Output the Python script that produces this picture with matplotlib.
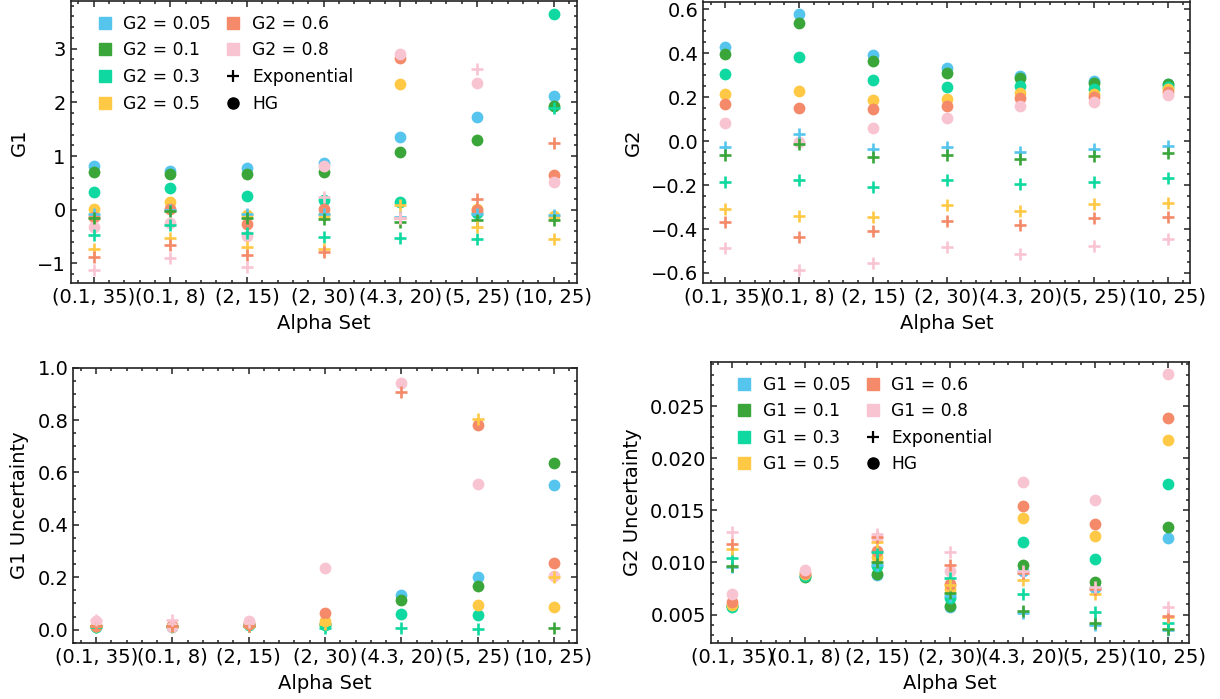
import numpy as np
import matplotlib
matplotlib.use("Agg")
import matplotlib.pyplot as plt
from matplotlib.lines import Line2D
from matplotlib.ticker import AutoMinorLocator

nan = np.nan

alpha_sets = ['(0.1, 35)', '(0.1, 8)', '(2, 15)', '(2, 30)', '(4.3, 20)', '(5, 25)', '(10, 25)']
g_values = ['0.05', '0.1', '0.3', '0.5', '0.6', '0.8']
colors = ['#56C5EE', '#3AA63A', '#0FD8A0', '#FFC845', '#F58A6A', '#F9C4D2']

# G1 fits (rows = G2 value, cols = alpha set)
g1_hg = [
    [0.81, 0.73, 0.78, 0.88, 1.36, 1.72, 2.12],
    [0.70, 0.66, 0.66, 0.71, 1.07, 1.30, 1.93],
    [0.33, 0.40, 0.25, 0.18, 0.14, -0.06, 3.65],
    [0.01, 0.15, -0.10, -0.10, 2.34, 0.02, -0.12],
    [-0.13, 0.02, -0.27, 0.02, 2.83, 0.00, 0.64],
    [-0.32, -0.24, -0.48, 0.81, 2.91, 2.36, 0.52],
]
g1_exp = [
    [-0.07, 0.00, -0.07, -0.07, -0.13, -0.07, -0.09],
    [-0.16, -0.03, -0.16, -0.17, -0.22, -0.19, -0.19],
    [-0.47, -0.29, -0.44, -0.50, -0.53, -0.55, 1.89],
    [-0.73, -0.52, -0.70, -0.73, 0.09, -0.33, -0.54],
    [-0.88, -0.65, -0.85, -0.78, -0.15, 0.20, 1.25],
    [-1.12, -0.89, -1.06, 0.23, -0.15, 2.62, nan],
]

# G2 fits
g2_hg = [
    [0.429, 0.577, 0.394, 0.333, 0.295, 0.273, 0.262],
    [0.398, 0.536, 0.365, 0.311, 0.285, 0.265, 0.258],
    [0.306, 0.382, 0.277, 0.247, 0.250, 0.238, 0.247],
    [0.214, 0.227, 0.189, 0.191, 0.217, 0.214, 0.235],
    [0.171, 0.150, 0.145, 0.159, 0.197, 0.202, 0.224],
    [0.083, -0.003, 0.061, 0.103, 0.161, 0.177, 0.208],
]
g2_exp = [
    [-0.026, 0.032, -0.035, -0.026, -0.048, -0.035, -0.020],
    [-0.061, -0.011, -0.071, -0.061, -0.082, -0.067, -0.053],
    [-0.186, -0.177, -0.208, -0.177, -0.197, -0.186, -0.167],
    [-0.309, -0.339, -0.344, -0.291, -0.318, -0.288, -0.283],
    [-0.370, -0.438, -0.409, -0.362, -0.382, -0.352, -0.344],
    [-0.488, -0.586, -0.556, -0.480, -0.514, -0.476, -0.447],
]

# G1 uncertainty (nan = not visible / above 1)
g1_unc_hg = [
    [0.015, 0.012, 0.020, 0.020, 0.133, 0.202, 0.551],
    [0.012, 0.012, 0.020, 0.020, 0.114, 0.165, 0.635],
    [0.010, 0.010, 0.018, 0.017, 0.061, 0.055, nan],
    [0.015, 0.012, 0.020, 0.032, nan, 0.093, 0.085],
    [0.013, 0.012, 0.020, 0.063, nan, 0.781, 0.254],
    [0.032, 0.010, 0.034, 0.236, 0.940, 0.555, 0.203],
]
g1_unc_exp = [
    [0.012, 0.015, 0.015, nan, nan, nan, nan],
    [0.012, 0.015, 0.012, nan, nan, nan, 0.005],
    [0.010, 0.015, 0.015, 0.006, 0.006, 0.004, nan],
    [0.015, 0.015, 0.015, 0.020, nan, 0.806, 0.202],
    [0.015, 0.015, 0.015, nan, 0.909, nan, nan],
    [0.038, 0.036, 0.030, nan, nan, nan, nan],
]

# G2 uncertainty (rows = G1 value)
g2_unc_hg = [
    [0.0058, 0.0087, 0.0088, 0.00577, 0.00921, 0.00752, 0.01237],
    [0.0058, 0.0086, 0.00886, 0.00583, 0.00975, 0.00809, 0.01339],
    [0.0057, 0.0087, 0.00966, 0.00656, 0.01199, 0.0103, 0.0175],
    [0.00592, 0.0089, 0.01055, 0.00746, 0.01422, 0.01256, 0.02175],
    [0.00624, 0.0090, 0.0111, 0.00793, 0.01543, 0.01368, 0.02382],
    [0.00698, 0.00927, 0.0123, 0.00918, 0.01776, 0.01597, 0.02803],
]
g2_unc_exp = [
    [0.0096, nan, 0.0098, 0.0068, 0.00513, 0.00401, 0.00353],
    [0.00969, nan, 0.01001, 0.0071, 0.00538, 0.00417, 0.0036],
    [0.01039, nan, 0.01096, 0.00854, 0.00695, 0.00522, 0.00423],
    [0.01125, nan, 0.01199, 0.0078, 0.00832, 0.00695, 0.0048],
    [0.01176, nan, 0.01246, 0.00975, 0.0090, 0.0075, 0.0049],
    [0.01294, nan, 0.01272, 0.01103, 0.0092, 0.00762, 0.0057],
]

plt.rcParams['font.size'] = 14
plt.rcParams['axes.linewidth'] = 1.2
plt.rcParams['axes.edgecolor'] = '#222222'

x = np.arange(len(alpha_sets))


def draw_panel(ax, hg, exp, ylabel):
    for i in range(len(g_values)):
        ax.scatter(x, hg[i], s=72, color=colors[i], marker='o', linewidths=0, zorder=2)
        ax.scatter(x, exp[i], s=78, color=colors[i], marker='+', linewidths=1.9, zorder=3)
    ax.set_xticks(x)
    ax.set_xticklabels(alpha_sets)
    ax.set_xlabel('Alpha Set', labelpad=5)
    ax.set_ylabel(ylabel, labelpad=6)
    ax.xaxis.set_minor_locator(AutoMinorLocator())
    ax.yaxis.set_minor_locator(AutoMinorLocator())
    ax.tick_params(which='both', direction='in', top=True, right=True, width=1.1, color='#222222')
    ax.tick_params(which='major', length=4.5, labelsize=14)
    ax.tick_params(which='minor', length=2.3)


def add_legend(ax, prefix):
    handles = []
    for i in range(len(g_values)):
        handles.append(Line2D([], [], ls='none', marker='s', ms=8, color=colors[i],
                              label=prefix + ' = ' + g_values[i]))
    handles.append(Line2D([], [], ls='none', marker='+', ms=8, mew=1.6, color='black', label='Exponential'))
    handles.append(Line2D([], [], ls='none', marker='o', ms=8, color='black', label='HG'))
    ax.legend(handles=handles, ncol=2, frameon=False, loc='upper left', fontsize=12.3,
              bbox_to_anchor=(0.037, 0.975), borderaxespad=0,
              handlelength=1.0, handletextpad=0.6, columnspacing=0.8)


W, H = 1220, 699
fig = plt.figure(figsize=(W / 100, H / 100), dpi=100)


def px_axes(l, t, r, b):
    return fig.add_axes([l / W, 1 - b / H, (r - l) / W, (b - t) / H])


ax1 = px_axes(70.5, 1, 576.7, 282.7)
ax2 = px_axes(703.3, 1.5, 1190, 282.7)
ax3 = px_axes(73.3, 367.7, 576.7, 642.7)
ax4 = px_axes(710.7, 361.7, 1189.3, 642.7)

draw_panel(ax1, g1_hg, g1_exp, 'G1')
add_legend(ax1, 'G2')

draw_panel(ax2, g2_hg, g2_exp, 'G2')

draw_panel(ax3, g1_unc_hg, g1_unc_exp, 'G1 Uncertainty')
ax3.set_ylim(-0.05, 1.0)

draw_panel(ax4, g2_unc_hg, g2_unc_exp, 'G2 Uncertainty')
add_legend(ax4, 'G1')

fig.savefig('out.png', dpi=100)
